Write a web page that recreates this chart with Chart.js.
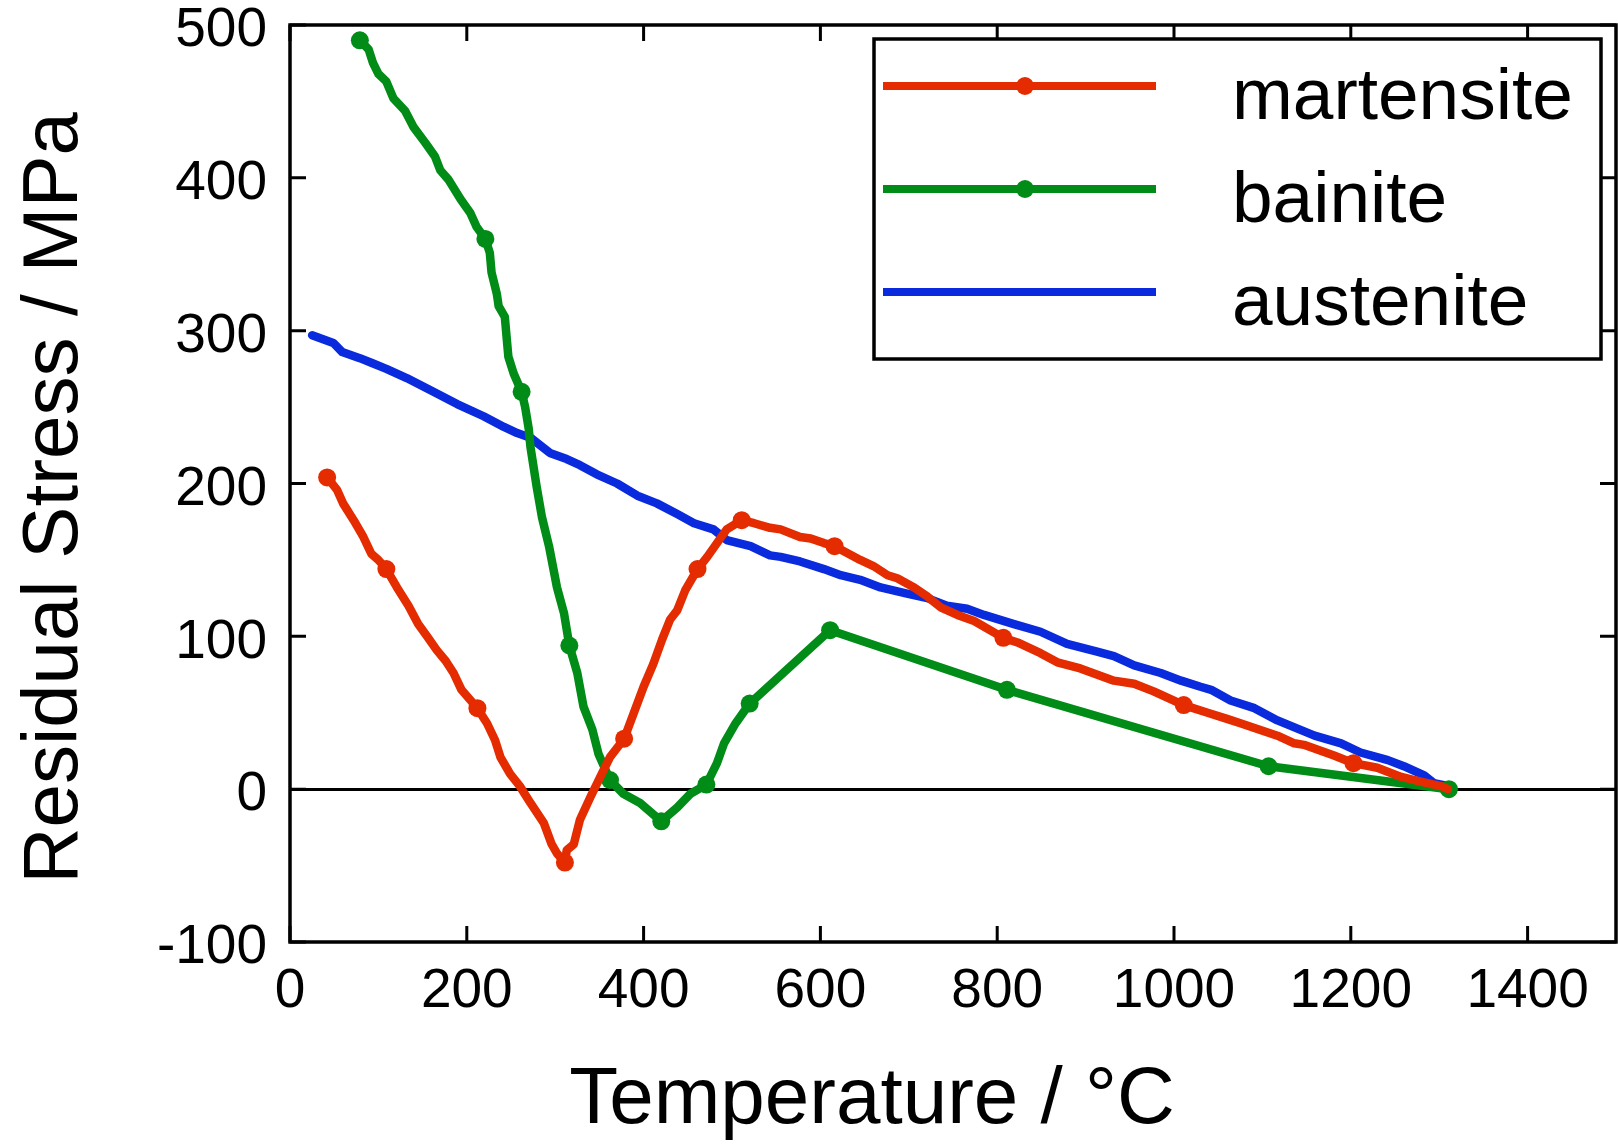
<!DOCTYPE html>
<html>
<head>
<meta charset="utf-8">
<script src="https://cdn.jsdelivr.net/npm/chart.js@4"></script>
<style>
  body { margin: 0; background: #fff; }
  canvas { display: block; }
</style>
</head>
<body>
<canvas id="stressChart" width="1618" height="1144"></canvas>
<script>
// series labels / colours
const seriesNames = ['martensite', 'bainite', 'austenite'];
const seriesColors = ['#e52b00', '#008c17', '#0a2add'];

// axis ticks
const xTicks = [0, 200, 400, 600, 800, 1000, 1200, 1400];
const yTicks = [-100, 0, 100, 200, 300, 400, 500];

// martensite: temperature (°C) and residual stress (MPa)
const martensiteT = [42, 53, 60, 72, 83, 92, 100, 109, 121, 134, 145, 155, 166, 176, 185, 194, 212, 223, 232, 238, 249, 260, 272, 287, 296, 302, 311, 313, 321, 328, 340, 351, 362, 378, 389, 400, 411, 421, 430, 438, 447, 461, 472, 483, 494, 511, 525, 543, 555, 577, 589, 604, 616, 645, 660, 676, 687, 706, 721, 736, 755, 774, 807, 823, 849, 868, 894, 932, 955, 977, 1011, 1038, 1060, 1076, 1091, 1117, 1136, 1147, 1181, 1203, 1230, 1257, 1279, 1302, 1310];
const martensiteS = [204, 196, 187, 176, 165, 154, 150, 144, 132, 120, 108, 100, 91, 84, 76, 65, 53, 43, 32, 21, 10, 2, -9, -22, -36, -42, -48, -40, -36, -20, -5, 8, 21, 33, 50, 67, 82, 98, 111, 117, 130, 144, 152, 161, 170, 176, 174, 171, 170, 165, 164, 161, 159, 150, 146, 140, 138, 132, 126, 119, 114, 110, 99, 96, 89, 83, 79, 71, 69, 64, 55, 50, 46, 43, 40, 35, 30, 29, 22, 17, 14, 8, 5, 2, 0];
const martensiteMarks = [42, 109, 212, 311, 378, 461, 511, 616, 807, 1011, 1203];

// bainite
const bainiteT = [79, 89, 94, 100, 109, 117, 130, 140, 153, 164, 170, 179, 193, 204, 211, 221, 226, 228, 234, 236, 243, 245, 247, 253, 262, 266, 270, 272, 279, 285, 293, 302, 310, 316, 325, 332, 342, 349, 362, 377, 396, 420, 438, 453, 471, 483, 491, 504, 520, 611, 811, 1107, 1311];
const bainiteS = [490, 484, 475, 468, 463, 452, 444, 433, 423, 414, 405, 399, 386, 377, 368, 360, 351, 338, 324, 316, 309, 296, 283, 272, 260, 250, 236, 224, 198, 178, 159, 132, 115, 94, 76, 54, 39, 23, 6, -3, -9, -21, -12, -3, 3, 17, 30, 43, 56, 104, 65, 15, 0];
const bainiteMarks = [79, 221, 262, 316, 362, 420, 471, 520, 611, 811, 1107, 1311];

// austenite
const austeniteT = [25, 49, 59, 79, 92, 109, 132, 159, 189, 219, 242, 257, 272, 294, 313, 328, 347, 370, 393, 415, 438, 457, 479, 494, 521, 543, 555, 577, 604, 623, 645, 668, 698, 721, 743, 766, 785, 819, 849, 879, 913, 932, 955, 985, 1008, 1030, 1042, 1064, 1091, 1117, 1159, 1189, 1211, 1242, 1260, 1283, 1294, 1311];
const austeniteS = [297, 292, 286, 282, 279, 275, 269, 261, 252, 244, 237, 233, 230, 220, 216, 212, 206, 200, 192, 187, 180, 174, 170, 163, 159, 153, 152, 149, 144, 140, 137, 132, 128, 125, 120, 118, 114, 108, 103, 95, 90, 87, 81, 76, 71, 67, 65, 58, 53, 45, 35, 30, 24, 19, 15, 9, 4, 2];
const austeniteMarks = [];

const FONT = '"Liberation Sans", Helvetica, Arial, sans-serif';

function makeDataset(label, color, temps, stress, marks) {
    return {
        label: label,
        data: temps.map((t, i) => ({ x: t, y: stress[i] })),
        borderColor: color,
        backgroundColor: color,
        borderWidth: 8.5,
        borderJoinStyle: 'round',
        borderCapStyle: 'round',
        tension: 0,
        pointBorderWidth: 0,
        pointRadius: ctx => marks.includes(temps[ctx.dataIndex]) ? 9 : 0,
        pointHoverRadius: 0
    };
}

// frame + inward ticks on all four sides
const framePlugin = {
    id: 'frame',
    afterDatasetsDraw(chart) {
        const { ctx, chartArea: a, scales: { x, y } } = chart;
        const len = 16;
        ctx.save();
        ctx.strokeStyle = '#000';
        ctx.lineWidth = 3;
        ctx.beginPath();
        xTicks.forEach(v => {
            const px = x.getPixelForValue(v);
            ctx.moveTo(px, a.bottom); ctx.lineTo(px, a.bottom - len);
            ctx.moveTo(px, a.top); ctx.lineTo(px, a.top + len);
        });
        yTicks.forEach(v => {
            const py = y.getPixelForValue(v);
            ctx.moveTo(a.left, py); ctx.lineTo(a.left + len, py);
            ctx.moveTo(a.right, py); ctx.lineTo(a.right - len, py);
        });
        ctx.stroke();
        ctx.lineWidth = 3.5;
        ctx.strokeRect(a.left, a.top, a.right - a.left, a.bottom - a.top);
        ctx.restore();
    }
};

// legend box in the top right corner
const legendPlugin = {
    id: 'boxLegend',
    afterDraw(chart) {
        const { ctx, chartArea: a } = chart;
        const left = a.right - 742, top = a.top + 14;
        const w = 727, h = 320;
        ctx.save();
        ctx.fillStyle = '#fff';
        ctx.fillRect(left, top, w, h);
        ctx.strokeStyle = '#000';
        ctx.lineWidth = 3.5;
        ctx.strokeRect(left, top, w, h);
        chart.data.datasets.forEach((ds, i) => {
            const yy = top + 47 + i * 103;
            ctx.strokeStyle = ds.borderColor;
            ctx.lineWidth = 8;
            ctx.beginPath();
            ctx.moveTo(left + 9, yy);
            ctx.lineTo(left + 282, yy);
            ctx.stroke();
            if (i < 2) {
                ctx.fillStyle = ds.borderColor;
                ctx.beginPath();
                ctx.arc(left + 151, yy, 9, 0, Math.PI * 2);
                ctx.fill();
            }
            ctx.fillStyle = '#000';
            ctx.font = '73px ' + FONT;
            ctx.textAlign = 'left';
            ctx.textBaseline = 'alphabetic';
            ctx.fillText(ds.label, left + 358, yy + 33);
        });
        ctx.restore();
    }
};

// axis titles
const titlePlugin = {
    id: 'axisTitles',
    afterDraw(chart) {
        const { ctx } = chart;
        ctx.save();
        ctx.fillStyle = '#000';
        ctx.font = '80px ' + FONT;
        ctx.textAlign = 'center';
        ctx.textBaseline = 'alphabetic';
        ctx.fillText('Temperature / °C', 872, 1123);
        ctx.font = '78px ' + FONT;
        ctx.translate(77, 498);
        ctx.rotate(-Math.PI / 2);
        ctx.fillText('Residual Stress / MPa', 0, 0);
        ctx.restore();
    }
};

new Chart(document.getElementById('stressChart').getContext('2d'), {
    type: 'line',
    data: {
        datasets: [
            makeDataset(seriesNames[0], seriesColors[0], martensiteT, martensiteS, martensiteMarks),
            makeDataset(seriesNames[1], seriesColors[1], bainiteT, bainiteS, bainiteMarks),
            makeDataset(seriesNames[2], seriesColors[2], austeniteT, austeniteS, austeniteMarks)
        ]
    },
    options: {
        responsive: false,
        animation: false,
        devicePixelRatio: 1,
        layout: { autoPadding: false, padding: { top: 25, right: 2, left: 0, bottom: 0 } },
        plugins: { legend: { display: false }, tooltip: { enabled: false } },
        scales: {
            x: {
                type: 'linear',
                min: 0,
                max: 1500,
                afterBuildTicks: scale => { scale.ticks = xTicks.map(v => ({ value: v })); },
                afterFit: scale => {
                    scale.height = 202;
                    scale.paddingLeft = 0;
                    scale.paddingRight = 0;
                },
                border: { display: false },
                grid: { display: false, drawTicks: false },
                ticks: {
                    color: '#000', padding: 17, maxRotation: 0,
                    font: { size: 55, family: FONT },
                    callback: v => String(v)
                }
            },
            y: {
                type: 'linear',
                min: -100,
                max: 500,
                afterBuildTicks: scale => { scale.ticks = yTicks.map(v => ({ value: v })); },
                afterFit: scale => {
                    scale.width = 290;
                    scale.paddingTop = 0;
                    scale.paddingBottom = 0;
                },
                border: { display: false },
                grid: {
                    drawTicks: false,
                    lineWidth: 3,
                    color: ctx => ctx.tick && ctx.tick.value === 0 ? '#000' : 'rgba(0,0,0,0)'
                },
                ticks: {
                    color: '#000', padding: 23, labelOffset: 6,
                    font: { size: 55, family: FONT },
                    callback: v => String(v)
                }
            }
        }
    },
    plugins: [framePlugin, legendPlugin, titlePlugin]
});
</script>
</body>
</html>
